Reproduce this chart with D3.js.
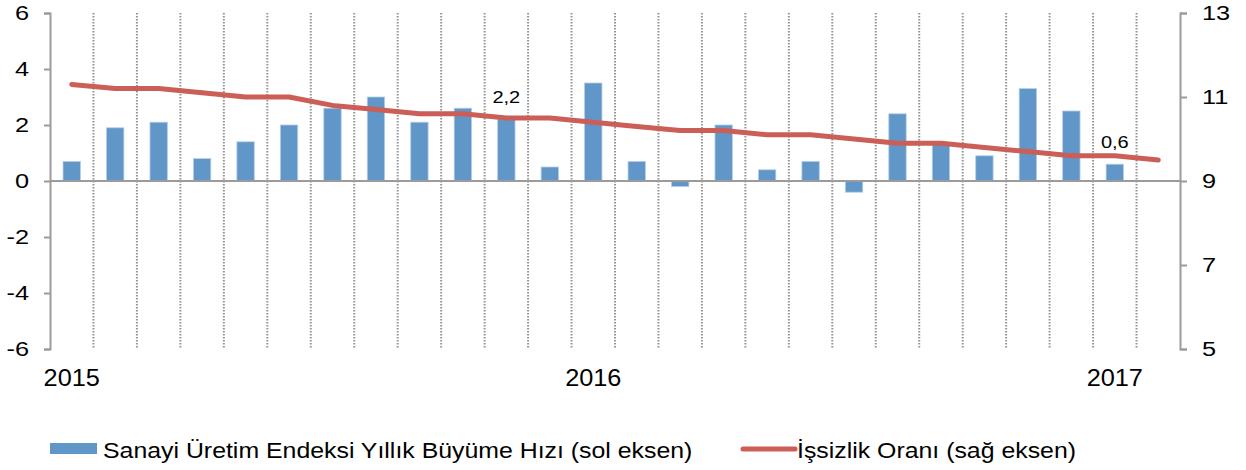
<!DOCTYPE html>
<html><head><meta charset="utf-8">
<script src="https://cdn.jsdelivr.net/npm/d3@7"></script>
<style>
html,body{margin:0;padding:0;background:#fff;}
svg text{font-family:"Liberation Sans",Arial,sans-serif;fill:#000;}
</style></head>
<body><svg id="c" width="1246" height="470"></svg>
<script>
const months = ["2015-01","2015-02","2015-03","2015-04","2015-05","2015-06","2015-07","2015-08","2015-09","2015-10","2015-11","2015-12",
"2016-01","2016-02","2016-03","2016-04","2016-05","2016-06","2016-07","2016-08","2016-09","2016-10","2016-11","2016-12",
"2017-01","2017-02"];
const industryGrowth = [0.7,1.9,2.1,0.8,1.4,2.0,2.6,3.0,2.1,2.6,2.2,0.5,3.5,0.7,-0.2,2.0,0.4,0.7,-0.4,2.4,1.3,0.9,3.3,2.5,0.6,null];
const unemployment = [11.3,11.2,11.2,11.1,11.0,11.0,10.8,10.7,10.6,10.6,10.5,10.5,10.4,10.3,10.2,10.2,10.1,10.1,10.0,9.9,9.9,9.8,9.7,9.6,9.6,9.5];
const leftTicks = [-6,-4,-2,0,2,4,6];
const rightTicks = [5,7,9,11,13];
const yearLabels = ["2015","2016","2017"];
const yearMonths = ["2015-01","2016-01","2017-01"];
const labelledBars = ["2015-11","2017-01"];
const seriesNames = ["Sanayi Üretim Endeksi Yıllık Büyüme Hızı (sol eksen)","İşsizlik Oranı (sağ eksen)"];

const svg = d3.select("#c");
const L = 50, R = 1180, T = 13, B = 349;
const x = d3.scaleBand().domain(months).range([L, R]).padding(0);
const yL = d3.scaleLinear().domain([-6, 6]).range([B, T]);
const yR = d3.scaleLinear().domain([5, 13]).range([B, T]);
const axisCol = "#9b9b9b";
const barCol = "#6096c8";
const lineCol = "#cc5e58";
const fmt = d3.format(".1f");
const trFmt = v => fmt(v).replace(".", ",");

function stext(g, x0, y0, s, size, sx, anchor) {
  return g.append("text").attr("transform", `translate(${x0},${y0}) scale(${sx},1)`)
    .attr("font-size", size).attr("text-anchor", anchor || "start").text(s);
}

// dotted vertical gridlines at category boundaries
const gGrid = svg.append("g");
months.slice(1).forEach(m => {
  gGrid.append("line").attr("x1", x(m)).attr("x2", x(m)).attr("y1", T).attr("y2", B)
    .attr("stroke", "#949494").attr("stroke-width", 2).attr("stroke-dasharray", "1.5,1.5");
});

// bars
svg.append("g").selectAll("rect").data(months.map((m, i) => ({m, v: industryGrowth[i]})).filter(d => d.v != null))
  .join("rect")
  .attr("x", d => x(d.m) + x.bandwidth() / 2 - x.bandwidth() * 0.2)
  .attr("width", x.bandwidth() * 0.4)
  .attr("y", d => Math.min(yL(d.v), yL(0)))
  .attr("height", d => Math.abs(yL(d.v) - yL(0)))
  .attr("fill", barCol).attr("stroke", "#b7cde6").attr("stroke-width", 0.8);

// zero line
svg.append("line").attr("x1", L).attr("x2", R).attr("y1", yL(0)).attr("y2", yL(0))
  .attr("stroke", axisCol).attr("stroke-width", 2);

// left axis
const gL = svg.append("g").attr("transform", `translate(${L},0)`)
  .call(d3.axisLeft(yL).tickValues(leftTicks).tickSize(6).tickFormat(""));
gL.selectAll("path,line").attr("stroke", axisCol).attr("stroke-width", 2);
leftTicks.forEach(t => stext(svg, 29, yL(t) + 7, String(t), 19.5, 1.3, "end"));

// right axis
const gR = svg.append("g").attr("transform", `translate(${R},0)`)
  .call(d3.axisRight(yR).tickValues(rightTicks).tickSize(7).tickFormat(""));
gR.selectAll("path,line").attr("stroke", axisCol).attr("stroke-width", 2);
rightTicks.forEach(t => stext(svg, 1202, yR(t) + 7, String(t), 19.5, 1.3, "start"));

// year labels
yearLabels.forEach((yl, i) => {
  stext(svg, x(yearMonths[i]) + x.bandwidth() / 2, 386, yl, 23, 1.1, "middle");
});

// line
const line = d3.line().x((d, i) => x(months[i]) + x.bandwidth() / 2).y(d => yR(d));
svg.append("path").datum(unemployment).attr("d", line).attr("fill", "none")
  .attr("stroke", lineCol).attr("stroke-width", 5).attr("stroke-linecap", "round").attr("stroke-linejoin", "round");

// data labels
labelledBars.forEach(m => {
  const i = months.indexOf(m);
  stext(svg, x(m) + x.bandwidth() / 2, yL(industryGrowth[i]) - 16.5, trFmt(industryGrowth[i]), 16, 1.25, "middle");
});

// legend
svg.append("rect").attr("x", 50).attr("y", 443).attr("width", 47).attr("height", 11).attr("fill", barCol);
stext(svg, 103, 458, seriesNames[0], 22, 1.13, "start");
svg.append("line").attr("x1", 743).attr("x2", 795).attr("y1", 449).attr("y2", 449)
  .attr("stroke", lineCol).attr("stroke-width", 5).attr("stroke-linecap", "round");
stext(svg, 797, 458, seriesNames[1], 22, 1.13, "start");
</script></body></html>
